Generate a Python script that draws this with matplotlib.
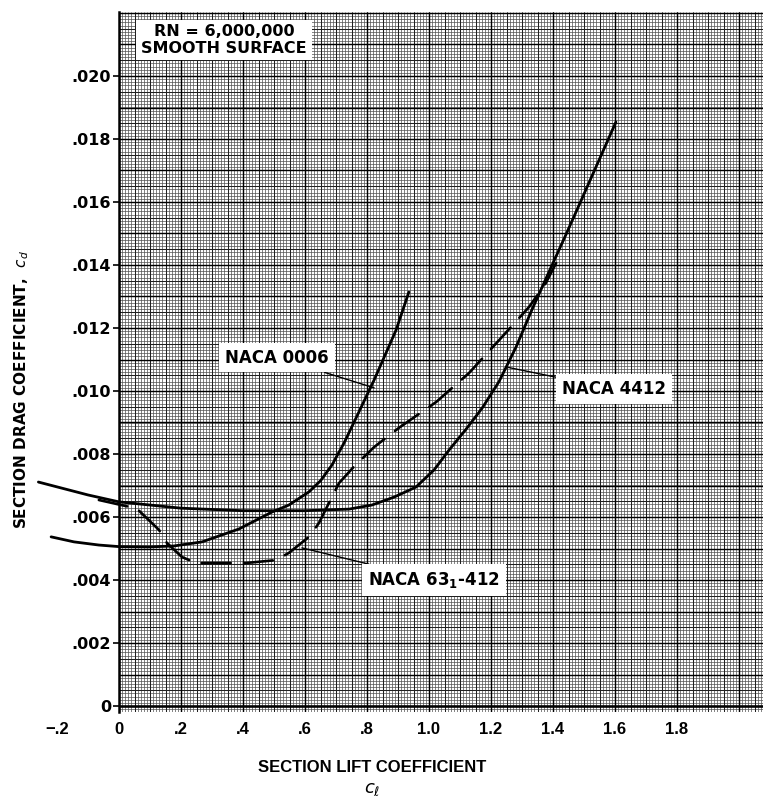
import numpy as np
import matplotlib
matplotlib.use("Agg")
import matplotlib.pyplot as plt

# ---------------- data ----------------
naca0006_cl = [-0.219, -0.145, -0.065, 0.0, 0.097, 0.177, 0.268, 0.387, 0.494,
               0.548, 0.613, 0.65, 0.687, 0.726, 0.765, 0.823, 0.894, 0.935]
naca0006_cd = [0.00537, 0.00521, 0.00511, 0.00506, 0.00505, 0.00508, 0.00521,
               0.00562, 0.00616, 0.00638, 0.00680, 0.00715, 0.00765, 0.00835,
               0.00915, 0.01035, 0.01194, 0.01314]

naca4412_cl = [-0.26, -0.10, 0.0, 0.2, 0.4, 0.6, 0.655, 0.742, 0.816, 0.887,
               0.958, 1.016, 1.065, 1.119, 1.171, 1.226, 1.281, 1.332, 1.387,
               1.442, 1.494, 1.548, 1.603]
naca4412_cd = [0.00711, 0.00670, 0.00648, 0.00628, 0.00620, 0.00620, 0.00622,
               0.00625, 0.00638, 0.00663, 0.00695, 0.00749, 0.00813, 0.00878,
               0.00945, 0.01030, 0.01140, 0.01258, 0.01378, 0.01497, 0.01612,
               0.01732, 0.01854]

naca63412_cl = [-0.065, 0.03, 0.055, 0.129, 0.155, 0.203, 0.248, 0.355, 0.41,
                0.506, 0.548, 0.613, 0.645, 0.677, 0.71, 0.758, 0.823, 0.903,
                1.023, 1.129, 1.235, 1.323, 1.377, 1.41]
naca63412_cd = [0.00654, 0.00633, 0.00629, 0.00559, 0.00517, 0.00473, 0.00454,
                0.00454, 0.00454, 0.00463, 0.00486, 0.00537, 0.00581, 0.00644,
                0.00708, 0.00760, 0.00822, 0.00883, 0.00965, 0.01057, 0.01171,
                0.01267, 0.01343, 0.01406]

x_ticks = [0, 0.2, 0.4, 0.6, 0.8, 1.0, 1.2, 1.4, 1.6, 1.8]
x_tick_labels = ["0", ".2", ".4", ".6", ".8", "1.0", "1.2", "1.4", "1.6", "1.8"]
y_ticks = [0, 0.002, 0.004, 0.006, 0.008, 0.010, 0.012, 0.014, 0.016, 0.018, 0.020]
y_tick_labels = ["0", ".002", ".004", ".006", ".008", ".010", ".012", ".014",
                 ".016", ".018", ".020"]

# ---------------- figure ----------------
W, H = 763, 798
fig = plt.figure(figsize=(W / 100, H / 100), dpi=100)
L, R, T, B = 119, 763, 12, 712
ax = fig.add_axes([L / W, 1 - B / H, (R - L) / W, (B - T) / H])
XMIN, XMAX = 0.0, (R - L) / 310.0
YMIN, YMAX = -(B - 706) / 31500.0, (706 - T) / 31500.0
ax.set_xlim(XMIN, XMAX)
ax.set_ylim(YMIN, YMAX)

WIDE = ["DejaVu Sans"]
NARROW = ["Liberation Sans", "DejaVu Sans"]

# graph-paper grid
xf = np.arange(0, XMAX + 1e-9, 0.01)
yf = np.arange(-0.0002, YMAX + 1e-12, 0.0001)
ax.vlines(xf, YMIN, YMAX, color="#505050", lw=0.5, zorder=0)
ax.hlines(yf, XMIN, XMAX, color="#505050", lw=0.5, zorder=0)
xm = np.arange(0, XMAX + 1e-9, 0.05)
ym = np.arange(0, YMAX + 1e-12, 0.0005)
ax.vlines(xm, YMIN, YMAX, color="#202020", lw=0.75, zorder=0)
ax.hlines(ym, XMIN, XMAX, color="#202020", lw=0.75, zorder=0)
xh = np.arange(0, XMAX + 1e-9, 0.2)
yh = np.arange(0, YMAX + 1e-12, 0.001)
ax.vlines(xh, YMIN, YMAX, color="#000000", lw=1.0, zorder=0)
ax.hlines(yh, XMIN, XMAX, color="#000000", lw=1.0, zorder=0)
ax.axhline(0, color="black", lw=1.8, zorder=1)

for s in ["top", "right", "bottom"]:
    ax.spines[s].set_visible(False)
ax.spines["left"].set_linewidth(1.8)

# curves
ax.plot(naca0006_cl, naca0006_cd, color="black", lw=2.0, clip_on=False,
        solid_capstyle="round", solid_joinstyle="round", zorder=3)
ax.plot(naca4412_cl, naca4412_cd, color="black", lw=2.0, clip_on=False,
        solid_capstyle="round", solid_joinstyle="round", zorder=3)
ax.plot(naca63412_cl, naca63412_cd, color="black", lw=1.9, clip_on=False,
        dashes=(11, 5), dash_capstyle="round", dash_joinstyle="round", zorder=3)

# ticks
ax.set_xticks(x_ticks)
ax.set_xticklabels(x_tick_labels, family=NARROW, fontsize=12, fontweight="bold")
ax.set_yticks(y_ticks)
ax.set_yticklabels(y_tick_labels, family=WIDE, fontsize=11.5, fontweight="bold")
ax.tick_params(axis="x", length=0, pad=7)
ax.tick_params(axis="y", length=4, width=1.2, pad=1.5)
ax.text(-0.2, -0.014, "−.2", transform=ax.get_xaxis_transform(), ha="center",
        va="top", family=NARROW, fontsize=12, fontweight="bold", clip_on=False)

# axis labels
fig.text(372 / W, 1 - 768 / H, "SECTION LIFT COEFFICIENT", ha="center",
         va="center", family=NARROW, fontsize=12, fontweight="bold")
fig.text(372 / W, 1 - 789 / H, r"$c_\ell$", ha="center", va="center",
         fontsize=13)
fig.text(22 / W, 1 - 390 / H, r"SECTION DRAG COEFFICIENT,  $c_d$",
         rotation=90, ha="center", va="center", family=WIDE, fontsize=11,
         fontweight="bold")

box = dict(boxstyle="square,pad=0.35", fc="white", ec="none")
arrow = dict(arrowstyle="-", color="black", lw=1.0, shrinkA=0, shrinkB=0)

ax.annotate("RN = 6,000,000\nSMOOTH SURFACE", xy=(0.339, 0.02114),
            ha="center", va="center", family=WIDE, fontsize=11.5,
            fontweight="bold", linespacing=1.1, zorder=5,
            bbox=dict(boxstyle="square,pad=0.3", fc="white", ec="none"))
ax.annotate("NACA 0006", xy=(0.823, 0.0101), xytext=(0.51, 0.01106),
            ha="center", va="center", family=WIDE, fontsize=12,
            fontweight="bold", bbox=box, arrowprops=arrow, zorder=5)
ax.annotate("NACA 4412", xy=(1.255, 0.01075), xytext=(1.597, 0.01006),
            ha="center", va="center", family=WIDE, fontsize=12,
            fontweight="bold", bbox=box, arrowprops=arrow, zorder=5)
ax.annotate(r"NACA 63$_\mathregular{1}$-412", xy=(0.59, 0.00502),
            xytext=(1.016, 0.0040), ha="center", va="center", family=WIDE,
            fontsize=12, fontweight="bold", bbox=box, arrowprops=arrow,
            zorder=5)

fig.savefig("out.png", dpi=100, facecolor="white")
